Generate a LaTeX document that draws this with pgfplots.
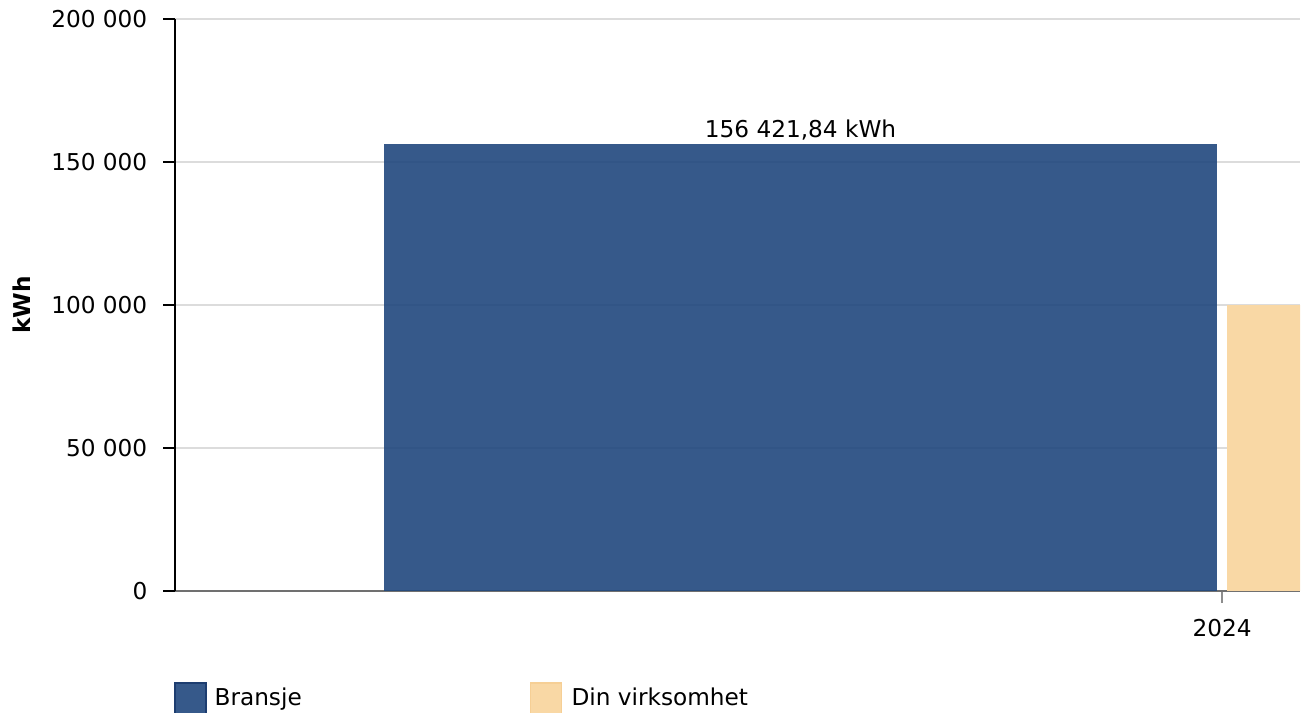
\documentclass[border=0pt]{standalone}
\usepackage{fontspec}
\setmainfont{DejaVu Sans}
\usepackage{pgfplots}
\pgfplotsset{compat=1.18}

\definecolor{bransje}{HTML}{20477D}
\definecolor{bransjeedge}{HTML}{1D3D70}
\definecolor{din}{HTML}{F9D8A5}
\definecolor{dinedge}{HTML}{F6CF95}
\definecolor{gridgray}{HTML}{DCDCDC}
\definecolor{xaxisgray}{HTML}{707070}

\begin{document}
\fontsize{11.6pt}{13.9pt}\selectfont
\begin{tikzpicture}
\useasboundingbox (0,0) rectangle (654.5pt,356pt);
\begin{axis}[
    at={(87.5pt,60.5pt)}, anchor=south west,
    scale only axis,
    width=562.5pt, height=286pt,
    xmin=2022.743, xmax=2024.0936,
    ymin=0, ymax=200000,
    axis x line=bottom, axis y line=left,
    x axis line style={xaxisgray,-, line width=0.9pt},
    y axis line style={black,-, line width=1pt},
    ybar, bar width=1,
    xtick={2024}, xticklabels={2024},
    ytick={0,50000,100000,150000,200000},
    scaled y ticks=false,
    /pgf/number format/assume math mode=true,
    yticklabel style={/pgf/number format/fixed, /pgf/number format/1000 sep={\ }, xshift=-3.8pt},
    xticklabel style={yshift=-4pt},
    tick align=outside,
    x tick style={xaxisgray!80, line width=0.8pt},
    y tick style={black, line width=0.8pt},
    xtick pos=bottom, ytick pos=left,
    major tick length=6pt,
    ymajorgrids, grid style={gridgray, line width=0.9pt},
    ylabel={kWh},
    ylabel style={at={(axis description cs:-0.136,0.5)}, anchor=center, font=\bfseries},
    legend columns=2,
    legend style={at={(axis description cs:-0.0009,-0.159)}, anchor=north west,
        draw=none, fill=none, inner sep=0pt, outer sep=0pt,
        nodes={inner sep=0pt},
        /tikz/column 1/.style={column sep=4pt},
        /tikz/column 2/.style={column sep=114pt},
        /tikz/column 3/.style={column sep=4.6pt}},
]
\addplot[fill=bransje, fill opacity=0.9, draw=none, bar shift=-0.506,
    nodes near coords={\pgfmathprintnumber[fixed,fixed zerofill,precision=2,use comma,1000 sep={\ }]{\pgfplotspointmeta}\ kWh},
    nodes near coords style={anchor=base, yshift=3pt, text opacity=1, black},
    legend image code/.code={\draw[fill=bransje, fill opacity=0.9, draw=bransjeedge, line width=0.8pt] (0pt,-7.75pt) rectangle (15.5pt,7.75pt);}]
    coordinates {(2024,156421.84)};
\addplot[fill=din, draw=none, bar shift=0.506,
    legend image code/.code={\draw[fill=din, draw=dinedge, line width=0.8pt] (0pt,-7.75pt) rectangle (15.5pt,7.75pt);}]
    coordinates {(2024,100000)};
\legend{Bransje, Din virksomhet}
\end{axis}
\end{tikzpicture}
\end{document}
